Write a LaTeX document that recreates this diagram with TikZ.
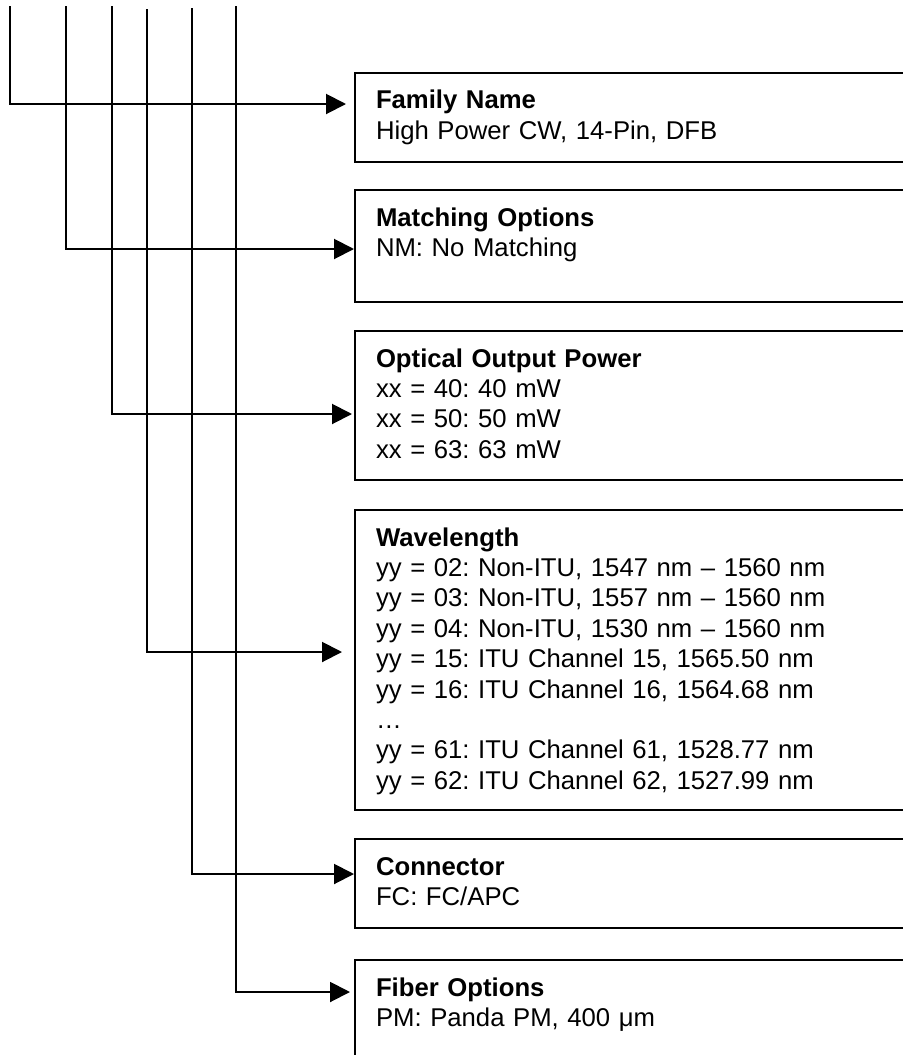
\documentclass[tikz,border=0pt]{standalone}
\usepackage{fontspec}
\setmainfont{Liberation Sans}
\frenchspacing
\usetikzlibrary{arrows.meta}

\begin{document}
\begin{tikzpicture}[x=0.5pt,y=-0.5pt]
  \tikzstyle{every node}=[font=\fontsize{12.85}{15.2}\selectfont]
  \tikzstyle{optbox}=[draw,line width=1pt,anchor=base west,inner xsep=10.5pt,inner ysep=0pt,text width=262pt,align=left,text height=18pt]
  \tikzstyle{lead}=[line width=1pt,-{Triangle[length=10pt,width=10pt]}]

  \useasboundingbox (0,0) rectangle (903,1055);

  % option boxes
  \draw (354,108.7) node[optbox,text depth=26.7pt] (FN) {\textbf{Family Name}\\High Power CW, 14-Pin, DFB};
  \draw (354,226) node[optbox,text depth=38pt] (MO) {\textbf{Matching Options}\\NM: No Matching};
  \draw (354,367) node[optbox,text depth=56.5pt] (OP) {\textbf{Optical Output Power}\\xx = 40: 40 mW\\xx = 50: 50 mW\\xx = 63: 63 mW};
  \draw (354,546) node[optbox,text depth=132pt] (WL) {\textbf{Wavelength}\\yy = 02: Non-ITU, 1547 nm – 1560 nm\\yy = 03: Non-ITU, 1557 nm – 1560 nm\\yy = 04: Non-ITU, 1530 nm – 1560 nm\\yy = 15: ITU Channel 15, 1565.50 nm\\yy = 16: ITU Channel 16, 1564.68 nm\\…\\yy = 61: ITU Channel 61, 1528.77 nm\\yy = 62: ITU Channel 62, 1527.99 nm};
  \draw (354,875) node[optbox,text depth=26.5pt] (CN) {\textbf{Connector}\\FC: FC/APC};
  \draw (354,996) node[optbox,text depth=44.5pt] (FO) {\textbf{Fiber Options}\\PM: Panda PM, 400 μm};

  % lead lines
  \coordinate (T1) at (10,6);
  \coordinate (T2) at (66,6);
  \coordinate (T3) at (112,6);
  \coordinate (T4) at (147,9);
  \coordinate (T5) at (192,8);
  \coordinate (T6) at (236,6);

  \coordinate (C1) at (10,104);
  \coordinate (C2) at (66,249);
  \coordinate (C3) at (112,414);
  \coordinate (C4) at (147,652);
  \coordinate (C5) at (192,874);
  \coordinate (C6) at (236,992);

  \draw[lead,shorten >=4pt] (T1) -- (C1) -- (C1 -| FN.west);
  \draw[lead] (T2) -- (C2) -- (C2 -| MO.west);
  \draw[lead,shorten >=1pt] (T3) -- (C3) -- (C3 -| OP.west);
  \draw[lead,shorten >=6pt] (T4) -- (C4) -- (C4 -| WL.west);
  \draw[lead] (T5) -- (C5) -- (C5 -| CN.west);
  \draw[lead,shorten >=2pt] (T6) -- (C6) -- (C6 -| FO.west);

\end{tikzpicture}
\end{document}
